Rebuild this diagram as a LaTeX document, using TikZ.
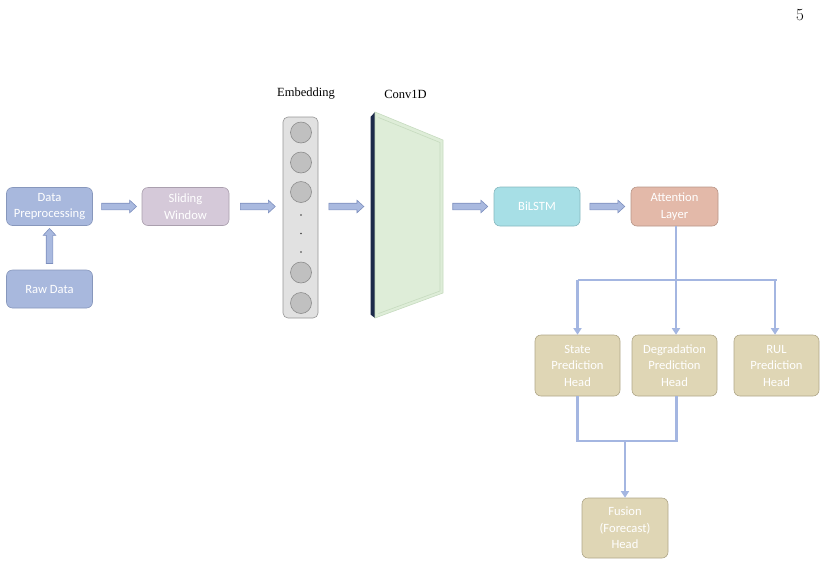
\documentclass[tikz,border=0pt]{standalone}
\usepackage{fontspec}
\newfontfamily\boxfont{Carlito}
\newfontfamily\capfont{Liberation Serif}
\usetikzlibrary{shapes.arrows,arrows.meta,calc}
\definecolor{blueboxfill}{HTML}{A8B8DD}
\definecolor{blueboxline}{HTML}{8797BC}
\definecolor{purplefill}{HTML}{D5C9D9}
\definecolor{purpleline}{HTML}{AA9FAE}
\definecolor{cyanfill}{HTML}{A7DFE6}
\definecolor{cyanline}{HTML}{86B8BF}
\definecolor{salmonfill}{HTML}{E3B9A9}
\definecolor{salmonline}{HTML}{B79587}
\definecolor{tanfill}{HTML}{DFD6B5}
\definecolor{tanline}{HTML}{AFA688}
\definecolor{embfill}{HTML}{E1E1E1}
\definecolor{embline}{HTML}{959595}
\definecolor{cellfill}{HTML}{C0C0C0}
\definecolor{cellline}{HTML}{8C8C8C}
\definecolor{convface}{HTML}{DEEDD8}
\definecolor{convedge}{HTML}{C6DBBF}
\definecolor{convside}{HTML}{1D2A4A}
\definecolor{arrowfill}{HTML}{A9B9DF}
\definecolor{arrowline}{HTML}{7D8FBE}
\definecolor{connline}{HTML}{A4B6E1}
\tikzset{
  box/.style={rounded corners=6pt, line width=0.6pt, text=white, align=center,
    inner sep=0pt, font=\boxfont\fontsize{12.6}{16.5}\selectfont},
  bluebox/.style={box, fill=blueboxfill, draw=blueboxline, minimum width=86pt, minimum height=38pt},
  purplebox/.style={box, fill=purplefill, draw=purpleline, minimum width=87pt, minimum height=38pt},
  cyanbox/.style={box, fill=cyanfill, draw=cyanline, minimum width=86pt, minimum height=39pt},
  salmonbox/.style={box, fill=salmonfill, draw=salmonline, minimum width=87pt, minimum height=39pt},
  headbox/.style={box, fill=tanfill, draw=tanline, minimum width=85pt, minimum height=61pt},
  caption/.style={font=\capfont\fontsize{12.5}{14}\selectfont, text=black, inner sep=0pt},
  cell/.style={circle, fill=cellfill, draw=cellline, line width=0.6pt, minimum size=21pt, inner sep=0pt},
  dotmark/.style={circle, fill=black!75, inner sep=0pt, minimum size=1.8pt},
  barrow/.style={to path={(\tikztostart) -- (\tikztotarget)
      node[midway, sloped, allow upside down, single arrow, draw=arrowline, fill=arrowfill,
        line width=0.6pt, minimum height=35pt, minimum width=12pt, inner sep=3pt,
        single arrow head extend=3pt, single arrow tip angle=85, anchor=center]{}}},
  conn/.style={draw=connline, line width=2.6pt},
  connarrow/.style={conn, -{Triangle[width=8pt,length=6.5pt]}},
}
\begin{document}
\begin{tikzpicture}[x=1pt,y=-1pt]
\useasboundingbox (0,0) rectangle (827,566);
% page number
\node[font=\fontsize{17}{19}\selectfont, inner sep=0pt] (pagenum) at (800,15.5) {5};
% boxes
\node[bluebox] (dp) at (49.5,206.5) {Data\\Preprocessing};
\node[bluebox] (rd) at (49.5,289) {Raw Data};
\node[purplebox] (sw) at (185.5,206.5) {Sliding\\Window};
\node[cyanbox] (bilstm) at (537,206.5) {BiLSTM};
\node[salmonbox] (att) at (674.5,206.5) {Attention\\Layer};
\node[headbox] (state) at (577.5,365.5) {State\\Prediction\\Head};
\node[headbox] (deg) at (674.5,365.5) {Degradation\\Prediction\\Head};
\node[headbox] (rul) at (776.5,365.5) {RUL\\Prediction\\Head};
\node[headbox, minimum width=86pt, minimum height=60pt] (fusion) at (625,528) {Fusion\\(Forecast)\\Head};
% embedding
\node[rounded corners=5pt, fill=embfill, draw=embline, line width=0.6pt,
  minimum width=35pt, minimum height=201pt, inner sep=0pt] (emb) at (300.5,217.5) {};
\node[cell] (c1) at (301,132.5) {};
\node[cell] (c2) at (301,162.5) {};
\node[cell] (c3) at (301,192) {};
\node[cell] (c4) at (301,272.5) {};
\node[cell] (c5) at (301,303) {};
\node[dotmark] (d1) at (301,215) {};
\node[dotmark] (d2) at (301,233.5) {};
\node[dotmark] (d3) at (301,252) {};
\node[caption] (embcap) at (306,94) {Embedding};
% conv1d
\node[inner sep=0pt, minimum width=72pt, minimum height=206pt] (conv) at (407,215) {};
\fill[convside] (370.5,117) -- (375,112) -- (375,318) -- (370.5,314.5) -- cycle;
\filldraw[fill=convface, draw=convedge, line width=0.6pt] (375,112) -- (443,140) -- (443,293) -- (375,318) -- cycle;
\draw[draw=convedge, line width=0.6pt] (378.5,117.5) -- (440,142.5) -- (440,291) -- (378.5,313.5);
\node[caption] (convcap) at (405.5,94) {Conv1D};
% block arrows
\path (rd.north) to[barrow] (dp.south);
\path (dp.east) to[barrow] (sw.west);
\path (sw.east) to[barrow] (emb.west |- sw.east);
\path (emb.east |- sw.east) to[barrow] (conv.west |- sw.east);
\path (conv.east |- bilstm.west) to[barrow] (bilstm.west);
\path (bilstm.east) to[barrow] (att.west);
% connectors to heads
\coordinate (hb) at (676,280);
\coordinate (fb) at (625,441);
\draw[conn] ([xshift=1.5pt]att.south) -- ([xshift=1.5pt]att.south |- hb);
\draw[conn] (state.north |- hb) -- (rul.north |- hb);
\draw[connarrow] (state.north |- hb) -- (state.north);
\draw[connarrow] ([xshift=1.5pt]deg.north |- hb) -- ([xshift=1.5pt]deg.north);
\draw[connarrow] ([xshift=-1.5pt]rul.north |- hb) -- ([xshift=-1.5pt]rul.north);
\draw[conn] (state.south) -- (state.south |- fb) -- ([xshift=2pt]deg.south |- fb) -- ([xshift=2pt]deg.south);
\draw[connarrow] (fb) -- (fusion.north);
\end{tikzpicture}
\end{document}
